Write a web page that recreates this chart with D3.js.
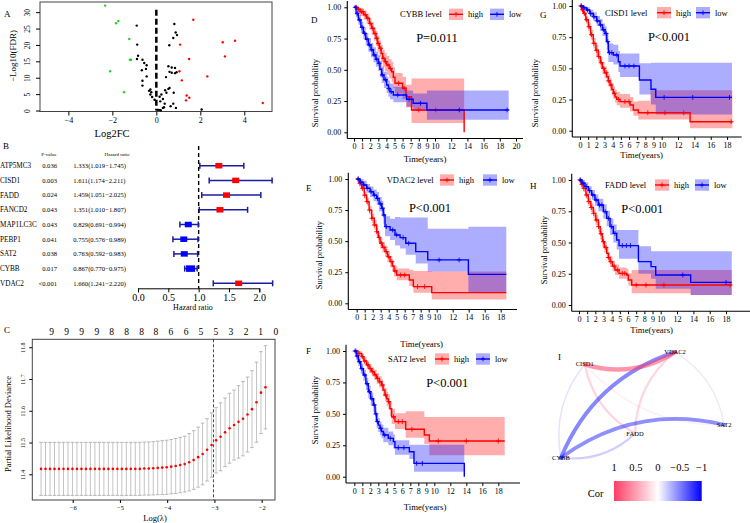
<!DOCTYPE html>
<html lang="en">
<head>
<meta charset="UTF-8">
<script src="https://cdn.jsdelivr.net/npm/d3@7"></script>
<style>
  body { margin: 0; background: #fff; }
  svg, svg text { font-family: "Liberation Serif", "DejaVu Serif", serif; }
  text { fill: #000; }
</style>
</head>
<body>
<div id="chart"></div>
<script>
// ---------- A: volcano (log2FC, -log10 FDR) ----------
var volUp = [[1.68,27.7],[1.08,20.1],[3.02,20.8],[3.58,21.3],[3.12,16.5],[1.49,15.7],[1.05,12.0],[2.32,10.4],
  [1.16,9.2],[1.38,4.6],[1.5,3.9],[1.35,3.1],[4.84,2.3]];
var volDown = [[-2.33,32.0],[-1.83,26.6],[-1.73,27.3],[-1.23,21.8],[-1.2,15.5],[-1.15,15.5],[-2.1,12.0],[-1.47,5.6]];
var volNs = [[-0.89,25.9],[-0.87,20.1],[-0.83,16.7],[-0.88,15.7],[-0.63,15.5],[-0.55,14.5],[-0.44,13.8],[-0.47,12.7],
  [-0.66,12.3],[-0.44,10.4],[-0.63,9.1],[-0.63,7.6],[-0.27,6.4],[-0.23,5.6],[-0.27,4.9],[-0.19,4.1],[-0.08,3.3],
  [-0.33,6.0],[0.82,26.4],[0.88,23.8],[0.94,23.0],[0.77,22.1],[0.59,19.9],[0.55,13.5],[0.7,13.1],[0.85,13.0],
  [0.6,11.8],[0.7,11.5],[0.85,11.4],[0.92,11.7],[0.44,10.2],[0.55,6.6],[0.4,6.2],[0.6,6.9],[0.46,5.4],[0.79,5.4],
  [0.23,4.9],[0.15,4.2],[0.3,3.5],[0.18,2.8],[0.38,2.1],[0.77,2.1],[0.65,1.3],[0.89,0.8],[0.3,0.8],[0.35,1.0],
  [0.05,0.2],[0.12,0.2],[0.2,0.1],[2.06,0.3]];

// ---------- B: univariate cox ----------
var genes = ["ATP5MC3","CISD1","FADD","FANCD2","MAP1LC3C","PEBP1","SAT2","CYBB","VDAC2"];
var pvals = ["0.036","0.003","0.024","0.043","0.043","0.041","0.038","0.017","<0.001"];
var hr = [1.333,1.611,1.459,1.351,0.829,0.755,0.763,0.867,1.660];
var hrLow = [1.019,1.174,1.051,1.010,0.691,0.576,0.592,0.770,1.241];
var hrHigh = [1.745,2.211,2.025,1.807,0.994,0.989,0.983,0.975,2.220];

// ---------- C: lasso cv ----------
var logLambda = [-6.67,-6.575,-6.48,-6.385,-6.29,-6.195,-6.1,-6.005,-5.91,-5.815,-5.72,-5.625,-5.53,-5.435,-5.34,
  -5.245,-5.15,-5.055,-4.96,-4.865,-4.77,-4.675,-4.58,-4.485,-4.39,-4.295,-4.2,-4.105,-4.01,-3.915,-3.82,-3.725,
  -3.63,-3.535,-3.44,-3.345,-3.25,-3.155,-3.06,-2.965,-2.87,-2.775,-2.68,-2.585,-2.49,-2.395,-2.3,-2.205,-2.11,
  -2.015,-1.92];
var cvm = [11.417,11.417,11.417,11.417,11.417,11.417,11.417,11.417,11.417,11.417,11.417,11.417,11.417,11.417,
  11.417,11.417,11.417,11.417,11.417,11.417,11.417,11.417,11.417,11.418,11.418,11.419,11.420,11.421,11.422,
  11.424,11.426,11.429,11.432,11.438,11.445,11.454,11.464,11.477,11.492,11.507,11.518,11.532,11.545,11.555,
  11.565,11.575,11.588,11.605,11.627,11.657,11.674];
var cvsd = [0.0835,0.0835,0.0835,0.0835,0.0835,0.0835,0.0835,0.0835,0.0835,0.0835,0.0835,0.0835,0.0835,0.0835,
  0.0835,0.0835,0.0835,0.0835,0.0835,0.0835,0.0835,0.0835,0.0835,0.0835,0.0837,0.084,0.0843,0.0848,0.0852,
  0.0856,0.0866,0.0871,0.0877,0.0903,0.0924,0.0945,0.0971,0.0982,0.1013,0.1029,0.107,0.108,0.110,0.110,0.114,
  0.117,0.118,0.121,0.126,0.129,0.131];
var nzeroAt = [-6.444,-6.127,-5.81,-5.49,-5.175,-4.857,-4.54,-4.237,-3.92,-3.60,-3.285,-2.967,-2.65,-2.33,-2.02,-1.70];
var nzero = [9,9,9,9,8,8,8,8,6,6,5,5,3,2,1,0];
var lambdaMin = -3.02;

// ---------- D-H: Kaplan-Meier (time, survival) steps, CI [time, lo, hi], censor times ----------
var cybbHigh = [[0,1],[0.4,0.985],[0.75,0.965],[1.2,0.94],[1.56,0.912],[1.9,0.87],[2.18,0.832],[2.45,0.79],[2.72,0.752],
  [2.9,0.71],[3.13,0.672],[3.35,0.63],[3.54,0.592],[3.8,0.565],[4.03,0.539],[4.35,0.51],[4.65,0.485],[4.85,0.44],
  [5.06,0.392],[6.0,0.352],[6.42,0.285],[7.1,0.179],[13.6,0]];
var cybbLow = [[0,1],[0.25,0.95],[0.53,0.899],[0.85,0.84],[1.15,0.792],[1.45,0.745],[1.77,0.699],[2.1,0.66],[2.39,0.619],
  [2.7,0.585],[3.0,0.552],[3.2,0.505],[3.42,0.459],[3.7,0.42],[4.03,0.379],[4.25,0.35],[4.44,0.325],[4.86,0.299],
  [6.5,0.264],[7.3,0.232],[9.0,0.179]];
var cybbHighCI = [[0,1,1],[0.4,0.955,1],[0.75,0.93,0.995],[1.2,0.9,0.975],[1.56,0.87,0.95],[1.9,0.82,0.915],[2.18,0.78,0.88],
  [2.45,0.735,0.84],[2.72,0.69,0.81],[2.9,0.645,0.77],[3.13,0.6,0.735],[3.35,0.56,0.7],[3.54,0.52,0.66],[3.8,0.49,0.635],
  [4.03,0.46,0.61],[4.35,0.43,0.585],[4.65,0.4,0.565],[4.85,0.355,0.52],[5.06,0.31,0.475],[6.0,0.265,0.445],
  [6.42,0.2,0.38],[7.1,0.075,0.43]];
var cybbLowCI = [[0,1,1],[0.25,0.92,0.98],[0.53,0.86,0.94],[0.85,0.795,0.885],[1.15,0.745,0.84],[1.45,0.695,0.795],
  [1.77,0.645,0.755],[2.1,0.6,0.715],[2.39,0.56,0.68],[2.7,0.525,0.645],[3.0,0.49,0.615],[3.2,0.44,0.57],[3.42,0.395,0.525],
  [3.7,0.355,0.485],[4.03,0.315,0.445],[4.25,0.285,0.415],[4.44,0.265,0.39],[4.86,0.24,0.365],[6.5,0.205,0.335],
  [7.3,0.17,0.31],[9.0,0.1,0.335]];
var cybbHighCens = [0.3,0.55,0.9,1.1,1.4,1.7,2.0,2.3,2.6,2.8,3.0,3.3,3.6,3.9,4.2,4.5,5.5,6.2,8.0,10.1];
var cybbLowCens = [0.15,0.4,0.7,1.0,1.3,1.6,1.9,2.2,2.5,2.8,3.1,3.5,3.9,4.3,4.6,5.4,6.8,8.2,13.0,18.9];

var cisd1High = [[0,1],[0.2,0.97],[0.41,0.941],[0.7,0.89],[1.02,0.834],[1.3,0.77],[1.63,0.70],[1.95,0.645],[2.24,0.594],
  [2.5,0.545],[2.73,0.5],[3.0,0.465],[3.27,0.433],[3.47,0.4],[3.67,0.366],[3.9,0.33],[4.08,0.299],[4.3,0.27],
  [4.49,0.251],[4.9,0.233],[6.12,0.206],[6.53,0.166],[7.14,0.144],[13.47,0.072]];
var cisd1Low = [[0,1],[0.4,0.985],[0.82,0.968],[1.2,0.94],[1.63,0.914],[2.05,0.88],[2.45,0.848],[2.75,0.81],[3.06,0.78],
  [3.27,0.714],[3.47,0.626],[4.08,0.607],[4.69,0.553],[4.9,0.519],[7.27,0.406],[8.69,0.332],[9.27,0.267]];
var cisd1HighCI = [[0,1,1],[0.2,0.95,0.99],[0.41,0.915,0.97],[0.7,0.86,0.92],[1.02,0.8,0.87],[1.3,0.73,0.81],
  [1.63,0.66,0.745],[1.95,0.6,0.69],[2.24,0.55,0.64],[2.5,0.5,0.59],[2.73,0.455,0.55],[3.0,0.42,0.515],[3.27,0.385,0.485],
  [3.47,0.355,0.455],[3.67,0.32,0.42],[3.9,0.285,0.385],[4.08,0.255,0.355],[4.3,0.225,0.33],[4.49,0.205,0.31],
  [4.9,0.185,0.295],[6.12,0.155,0.27],[6.53,0.12,0.235],[7.14,0.09,0.24],[8.6,0.09,0.325],[13.47,0.02,0.325]];
var cisd1LowCI = [[0,1,1],[0.4,0.97,1],[0.82,0.945,0.99],[1.2,0.91,0.97],[1.63,0.88,0.95],[2.05,0.84,0.92],[2.45,0.8,0.895],
  [2.75,0.76,0.86],[3.06,0.72,0.835],[3.27,0.65,0.78],[3.47,0.55,0.7],[4.08,0.53,0.69],[4.69,0.47,0.64],[4.9,0.43,0.62],
  [7.27,0.29,0.54],[8.69,0.21,0.545],[9.27,0.13,0.545]];
var cisd1HighCens = [0.1,0.3,0.55,0.8,1.1,1.4,1.7,2.0,2.3,2.6,2.9,3.2,3.5,3.8,4.2,4.7,5.5,6.0,8.3,10.4,12.7,18.5];
var cisd1LowCens = [0.2,0.5,0.9,1.3,1.7,2.1,2.5,2.9,3.2,3.4,3.6,3.9,4.5,5.5,6.0,6.6,10.3,13.8,18.3];

var vdac2High = [[0,1],[0.3,0.965],[0.63,0.925],[0.95,0.87],[1.25,0.818],[1.55,0.75],[1.88,0.684],[2.2,0.63],[2.5,0.576],
  [2.7,0.53],[2.92,0.483],[3.2,0.45],[3.54,0.416],[3.85,0.375],[4.17,0.335],[4.45,0.3],[4.67,0.26],[5.0,0.228],
  [6.58,0.188],[7.08,0.134],[9.38,0.086]];
var vdac2Low = [[0,1],[0.4,0.975],[0.83,0.952],[1.25,0.925],[1.67,0.898],[2.1,0.87],[2.5,0.844],[2.8,0.8],[3.13,0.764],
  [3.33,0.71],[3.54,0.617],[4.17,0.59],[4.79,0.55],[5.42,0.528],[6.13,0.483],[7.38,0.416],[8.88,0.349],[13.96,0.233]];
var vdac2HighCI = [[0,1,1],[0.3,0.94,0.99],[0.63,0.9,0.955],[0.95,0.84,0.9],[1.25,0.785,0.85],[1.55,0.715,0.785],
  [1.88,0.645,0.72],[2.2,0.59,0.67],[2.5,0.535,0.615],[2.7,0.49,0.57],[2.92,0.44,0.525],[3.2,0.41,0.495],[3.54,0.375,0.46],
  [3.85,0.33,0.42],[4.17,0.29,0.38],[4.45,0.255,0.345],[4.67,0.215,0.305],[5.0,0.185,0.28],[6.58,0.14,0.27],
  [7.08,0.085,0.26],[9.38,0.03,0.255]];
var vdac2LowCI = [[0,1,1],[0.4,0.95,1],[0.83,0.92,0.985],[1.25,0.89,0.96],[1.67,0.855,0.94],[2.1,0.82,0.915],[2.5,0.79,0.895],
  [2.8,0.74,0.855],[3.13,0.7,0.825],[3.33,0.64,0.775],[3.54,0.54,0.7],[4.17,0.51,0.68],[4.79,0.465,0.695],[5.42,0.44,0.69],
  [6.13,0.39,0.69],[7.38,0.32,0.69],[8.88,0.255,0.6],[13.96,0.09,0.615]];
var vdac2HighCens = [0.15,0.4,0.7,1.0,1.3,1.6,1.9,2.2,2.5,2.8,3.1,3.4,3.7,4.0,4.4,4.8,5.5,6.0,7.6,8.5];
var vdac2LowCens = [0.2,0.5,0.9,1.3,1.8,2.2,2.6,3.0,3.2,3.4,3.7,4.5,5.0,5.8,6.5,10.3,12.8];

var faddHigh = [[0,1],[0.25,0.965],[0.53,0.933],[0.85,0.88],[1.14,0.827],[1.45,0.78],[1.76,0.733],[2.05,0.68],[2.37,0.627],
  [2.6,0.57],[2.86,0.507],[3.1,0.46],[3.39,0.413],[3.6,0.38],[3.8,0.347],[4.1,0.31],[4.41,0.28],[4.9,0.253],
  [5.84,0.24],[6.04,0.2],[6.45,0.16]];
var faddLow = [[0,1],[0.35,0.975],[0.73,0.947],[1.15,0.915],[1.55,0.88],[1.95,0.84],[2.37,0.8],[2.98,0.747],[3.39,0.693],
  [3.8,0.627],[4.2,0.573],[4.61,0.52],[4.9,0.475],[7.27,0.347],[8.82,0.307],[9.39,0.24],[13.67,0.181]];
var faddHighCI = [[0,1,1],[0.25,0.94,0.99],[0.53,0.905,0.96],[0.85,0.85,0.91],[1.14,0.795,0.86],[1.45,0.745,0.815],
  [1.76,0.695,0.77],[2.05,0.64,0.72],[2.37,0.585,0.67],[2.6,0.525,0.615],[2.86,0.465,0.55],[3.1,0.42,0.505],
  [3.39,0.37,0.46],[3.6,0.34,0.425],[3.8,0.305,0.39],[4.1,0.27,0.355],[4.41,0.24,0.325],[4.9,0.21,0.3],
  [5.84,0.195,0.29],[6.04,0.155,0.255],[6.45,0.095,0.28],[13.67,0.08,0.28]];
var faddLowCI = [[0,1,1],[0.35,0.95,1],[0.73,0.92,0.98],[1.15,0.88,0.95],[1.55,0.84,0.92],[1.95,0.795,0.885],[2.37,0.75,0.85],
  [2.98,0.69,0.805],[3.39,0.63,0.755],[3.8,0.56,0.695],[4.2,0.5,0.645],[4.61,0.445,0.6],[4.9,0.37,0.6],[7.27,0.25,0.47],
  [8.82,0.21,0.43],[9.39,0.13,0.43],[13.67,0.08,0.43]];
var faddHighCens = [0.1,0.35,0.6,0.9,1.2,1.5,1.8,2.1,2.4,2.7,3.0,3.3,3.6,3.9,4.3,4.7,5.3,5.6,7.0,8.2,10.4,18.5];
var faddLowCens = [0.2,0.5,0.9,1.3,1.7,2.1,2.5,2.8,3.2,3.6,4.0,4.4,5.3,5.8,6.3,12.7,18.0];

var sat2High = [[0,1],[0.45,0.98],[0.92,0.955],[1.2,0.92],[1.54,0.889],[1.85,0.86],[2.17,0.836],[2.5,0.81],[2.79,0.782],
  [3.1,0.755],[3.42,0.729],[3.6,0.69],[3.83,0.65],[4.05,0.62],[4.25,0.597],[4.45,0.54],[4.67,0.477],[5.08,0.438],
  [6.42,0.377],[8.75,0.332],[9.38,0.284]];
var sat2Low = [[0,1],[0.25,0.96],[0.5,0.915],[0.8,0.86],[1.13,0.809],[1.45,0.74],[1.75,0.676],[2.05,0.62],[2.38,0.57],
  [2.6,0.5],[2.79,0.438],[3.0,0.41],[3.21,0.385],[3.4,0.36],[3.63,0.332],[4.25,0.305],[4.88,0.279],[5.08,0.231],
  [6.88,0.199],[7.46,0.106],[13.75,0]];
var sat2HighCI = [[0,1,1],[0.45,0.96,1],[0.92,0.93,0.98],[1.2,0.89,0.95],[1.54,0.855,0.92],[1.85,0.825,0.895],[2.17,0.8,0.87],
  [2.5,0.77,0.85],[2.79,0.74,0.825],[3.1,0.71,0.8],[3.42,0.68,0.775],[3.6,0.64,0.74],[3.83,0.6,0.705],[4.05,0.565,0.675],
  [4.25,0.54,0.655],[4.45,0.48,0.6],[4.67,0.42,0.54],[5.08,0.38,0.505],[6.42,0.31,0.52],[8.75,0.26,0.475],
  [9.38,0.17,0.475]];
var sat2LowCI = [[0,1,1],[0.25,0.93,0.99],[0.5,0.88,0.95],[0.8,0.82,0.9],[1.13,0.765,0.85],[1.45,0.69,0.785],
  [1.75,0.625,0.725],[2.05,0.565,0.67],[2.38,0.515,0.625],[2.6,0.445,0.555],[2.79,0.385,0.495],[3.0,0.355,0.465],
  [3.21,0.33,0.44],[3.4,0.305,0.415],[3.63,0.275,0.39],[4.25,0.25,0.36],[4.88,0.225,0.335],[5.08,0.175,0.29],
  [6.88,0.14,0.255],[7.46,0.04,0.255]];
var sat2HighCens = [0.2,0.6,1.0,1.3,1.7,2.0,2.3,2.6,2.9,3.2,3.5,3.9,4.3,4.9,5.5,6.0,7.2,10.5,14.0,18.0];
var sat2LowCens = [0.1,0.35,0.65,0.95,1.3,1.6,1.9,2.2,2.5,2.7,2.9,3.3,3.8,4.5,5.5,6.2,7.8,8.5];

var kmTicks18 = [0,1,2,3,4,5,6,7,8,9,10,12,14,16,18];
var kmTicks20 = [0,1,2,3,4,5,6,7,8,9,10,12,14,16,18,20];

// ---------- I: correlation network ----------
var netNodes = ["CISD1","VDAC2","SAT2","FADD","CYBB"];
var netX = [0.17,0.686,0.966,0.457,0.034];
var netY = [0.13,0.02,0.68,0.76,0.98];
var netEdges = [["SAT2","VDAC2",-0.08],["CISD1","SAT2",0.08],["CISD1","CYBB",-0.1],["CYBB","FADD",-0.18],
  ["CISD1","FADD",0.2],["VDAC2","FADD",0.2],["SAT2","CYBB",-0.42],["VDAC2","CYBB",-0.45],["CISD1","VDAC2",0.52]];
var corTicks = [1,0.5,0,-0.5,-1];

var SERIF = "'Liberation Serif', 'DejaVu Serif', serif";
var svg = d3.select("#chart").append("svg").attr("width", 750).attr("height", 523)
  .style("font-family", SERIF);

function txt(g, x, y, s, size, anchor, rot) {
  var t = g.append("text").attr("x", x).attr("y", y).text(s)
    .style("font-family", SERIF).style("font-size", size + "px").attr("text-anchor", anchor || "start");
  if (rot) t.attr("transform", "rotate(" + rot + "," + x + "," + y + ")");
  return t;
}
function styleAxis(g, size) {
  g.attr("font-family", SERIF).attr("font-size", size);
  g.selectAll("text").style("font-family", SERIF).style("font-size", size + "px");
  g.selectAll("line,path").attr("stroke", "#000");
}

// ================= A =================
var gA = svg.append("g");
var ax = d3.scaleLinear().domain([-5.29, 5.26]).range([40, 272]);
var ay = d3.scaleLinear().domain([-0.3, 33.1]).range([111.5, 2]);
gA.append("rect").attr("x", 40).attr("y", 2).attr("width", 232).attr("height", 109.5)
  .attr("fill", "none").attr("stroke", "#444");
gA.append("line").attr("x1", ax(0)).attr("x2", ax(0)).attr("y1", ay(30.7)).attr("y2", ay(0))
  .attr("stroke", "#000").attr("stroke-width", 2.5).attr("stroke-dasharray", "6,3");
[[volNs, "#000"], [volDown, "#1fd21f"], [volUp, "#ff0000"]].forEach(function (s) {
  gA.selectAll(null).data(s[0]).enter().append("circle")
    .attr("cx", function (d) { return ax(d[0]); }).attr("cy", function (d) { return ay(d[1]); })
    .attr("r", 1.2).attr("fill", s[1]);
});
var axA = gA.append("g").attr("transform", "translate(0,111.5)")
  .call(d3.axisBottom(ax).tickValues([-4, -2, 0, 2, 4]).tickSize(4).tickFormat(d3.format("d")));
axA.select(".domain").remove();
styleAxis(axA, 8);
axA.selectAll("text").attr("y", 6);
var ayA = gA.append("g").attr("transform", "translate(40,0)")
  .call(d3.axisLeft(ay).tickValues([0, 5, 10, 15, 20, 25, 30]).tickSize(4));
ayA.select(".domain").remove();
styleAxis(ayA, 7.5);
ayA.selectAll("text").attr("transform", "rotate(-90)").attr("x", 0).attr("y", -10).attr("dy", 0)
  .attr("text-anchor", "middle");
txt(gA, 16, 56, "\u2212Log10(FDR)", 9, "middle", -90);
txt(gA, 112, 137, "Log2FC", 10.5, "middle");
txt(gA, 4, 17, "A", 9);

// ================= B =================
var gB = svg.append("g");
var fx = d3.scaleLinear().domain([0, 2]).range([138, 259.3]);
var fy = d3.scalePoint().domain(genes).range([165.7, 283.3]);
txt(gB, 3, 149, "B", 9);
txt(gB, 49, 156, "P-value", 5, "middle");
txt(gB, 117, 156, "Hazard ratio", 5, "middle");
genes.forEach(function (gname, i) {
  var yy = fy(gname);
  txt(gB, 0, yy + 2.5, gname, 7.2);
  txt(gB, 57, yy + 2.3, pvals[i], 6.6, "end");
  txt(gB, 73.3, yy + 2.3, hr[i].toFixed(3) + "(" + hrLow[i].toFixed(3) + "\u2212" + hrHigh[i].toFixed(3) + ")", 6.6);
});
gB.append("line").attr("x1", fx(1)).attr("x2", fx(1)).attr("y1", 146).attr("y2", 288.3)
  .attr("stroke", "#000").attr("stroke-width", 1.4).attr("stroke-dasharray", "4,3");
genes.forEach(function (gname, i) {
  var yy = fy(gname), col = "#1c1ca0";
  gB.append("line").attr("x1", fx(hrLow[i])).attr("x2", fx(hrHigh[i])).attr("y1", yy).attr("y2", yy)
    .attr("stroke", col).attr("stroke-width", 1.5);
  [hrLow[i], hrHigh[i]].forEach(function (v) {
    gB.append("line").attr("x1", fx(v)).attr("x2", fx(v)).attr("y1", yy - 3).attr("y2", yy + 3)
      .attr("stroke", col).attr("stroke-width", 1.5);
  });
  var w = gname === "CYBB" ? 9 : 7, h = gname === "CYBB" ? 6.5 : 5.5;
  gB.append("rect").attr("x", fx(hr[i]) - w / 2).attr("y", yy - h / 2).attr("width", w).attr("height", h)
    .attr("fill", hr[i] > 1 ? "#ff0000" : "#0000ff");
});
var axB = gB.append("g").attr("transform", "translate(0,288.3)")
  .call(d3.axisBottom(fx).tickValues([0, 0.5, 1, 1.5, 2]).tickFormat(d3.format(".1f")).tickSize(4));
styleAxis(axB, 10);
axB.selectAll("text").attr("y", 6);
txt(gB, 193, 310, "Hazard ratio", 8, "middle");

// ================= C =================
var gC = svg.append("g");
var cx = d3.scaleLinear().domain([-6.855, -1.718]).range([32.3, 275]);
var cy = d3.scaleLinear().domain([11.319, 11.825]).range([500, 339.3]);
txt(gC, 4, 333, "C", 9);
gC.append("rect").attr("x", 32.3).attr("y", 339.3).attr("width", 242.7).attr("height", 160.7)
  .attr("fill", "none").attr("stroke", "#444");
logLambda.forEach(function (l, i) {
  var x = cx(l), y1 = cy(cvm[i] - cvsd[i]), y2 = cy(cvm[i] + cvsd[i]);
  gC.append("line").attr("x1", x).attr("x2", x).attr("y1", y1).attr("y2", y2).attr("stroke", "#c4c4c4").attr("stroke-width", 1);
  [y1, y2].forEach(function (yy) {
    gC.append("line").attr("x1", x - 1.8).attr("x2", x + 1.8).attr("y1", yy).attr("y2", yy)
      .attr("stroke", "#b0b0b0").attr("stroke-width", 0.9);
  });
});
gC.append("line").attr("x1", cx(lambdaMin)).attr("x2", cx(lambdaMin)).attr("y1", 339.3).attr("y2", 500)
  .attr("stroke", "#333").attr("stroke-width", 0.9).attr("stroke-dasharray", "3,2");
gC.selectAll(null).data(logLambda).enter().append("circle")
  .attr("cx", function (d) { return cx(d); }).attr("cy", function (d, i) { return cy(cvm[i]); })
  .attr("r", 1.3).attr("fill", "#ff0000");
var axC = gC.append("g").attr("transform", "translate(0,500)")
  .call(d3.axisBottom(cx).tickValues([-6, -5, -4, -3, -2]).tickFormat(d3.format("d")).tickSize(3));
axC.select(".domain").remove();
styleAxis(axC, 6.5);
axC.selectAll("text").attr("y", 5);
var ayC = gC.append("g").attr("transform", "translate(32.3,0)")
  .call(d3.axisLeft(cy).tickValues([11.4, 11.5, 11.6, 11.7, 11.8]).tickFormat(d3.format(".1f")).tickSize(3));
ayC.select(".domain").remove();
styleAxis(ayC, 6);
ayC.selectAll("text").attr("transform", "rotate(-90)").attr("x", 0).attr("y", -7).attr("dy", 0)
  .attr("text-anchor", "middle");
nzero.forEach(function (n, i) { txt(gC, cx(nzeroAt[i]), 335, n, 9.5, "middle"); });
txt(gC, 11, 424, "Partial Likelihood Deviance", 8.5, "middle", -90);
txt(gC, 155, 521, "Log(\u03bb)", 8.5, "middle");

// ================= KM panels =================
var kmPanels = [
  { gene: "CYBB", letter: "D", pTxt: "P=0.011", high: cybbHigh, low: cybbLow, highCI: cybbHighCI, lowCI: cybbLowCI,
    highCens: cybbHighCens, lowCens: cybbLowCens, highEnd: 13.6, lowEnd: 19.1, ticks: kmTicks20,
    axisX: 347.3, t0: 354, ppy: 8.1, y1: 7.3, y0: 132.3, xEnd: 523, let: [311, 23], ylab: [318, 93], xlab: [425, 162],
    legX: 400, legY: 14.3, keyH: 449, keyL: 490, pX: 437, pY: 42 },
  { gene: "CISD1", letter: "G", pTxt: "P<0.001", high: cisd1High, low: cisd1Low, highCI: cisd1HighCI, lowCI: cisd1LowCI,
    highCens: cisd1HighCens, lowCens: cisd1LowCens, highEnd: 18.65, lowEnd: 18.6, ticks: kmTicks18,
    axisX: 572.3, t0: 580, ppy: 8.17, y1: 6, y0: 130.7, xEnd: 741.7, let: [540, 18], ylab: [538, 93], xlab: [641.7, 158],
    legX: 605, legY: 12.7, keyH: 657, keyL: 696, pX: 669, pY: 41 },
  { gene: "VDAC2", letter: "E", pTxt: "P<0.001", high: vdac2High, low: vdac2Low, highCI: vdac2HighCI, lowCI: vdac2LowCI,
    highCens: vdac2HighCens, lowCens: vdac2LowCens, highEnd: 18.7, lowEnd: 18.7, ticks: kmTicks18,
    axisX: 348.3, t0: 356.7, ppy: 8.0, y1: 179, y0: 303.3, xEnd: 517, let: [306, 191], ylab: [322, 255], xlab: [421.7, 347],
    legX: 386.7, legY: 180, keyH: 440, keyL: 483, pX: 430, pY: 212 },
  { gene: "FADD", letter: "H", pTxt: "P<0.001", high: faddHigh, low: faddLow, highCI: faddHighCI, lowCI: faddLowCI,
    highCens: faddHighCens, lowCens: faddLowCens, highEnd: 18.7, lowEnd: 18.7, ticks: kmTicks18,
    axisX: 571.7, t0: 579, ppy: 8.17, y1: 180, y0: 305, xEnd: 750, let: [530, 189], ylab: [547, 250], xlab: [651.7, 333],
    legX: 605, legY: 185, keyH: 655, keyL: 695, pX: 642.3, pY: 212.5 },
  { gene: "SAT2", letter: "F", pTxt: "P<0.001", high: sat2High, low: sat2Low, highCI: sat2HighCI, lowCI: sat2LowCI,
    highCens: sat2HighCens, lowCens: sat2LowCens, highEnd: 18.8, lowEnd: 13.75, ticks: kmTicks18,
    axisX: 346, t0: 354.3, ppy: 8.0, y1: 351, y0: 476.7, xEnd: 520, let: [306, 354], ylab: [318, 410], xlab: [425, 510],
    legX: 388, legY: 359, keyH: 435, keyL: 476, pX: 447.3, pY: 387 }
];
var RED = "#ff0000", BLUE = "#0000ff";

function survAt(steps, t) {
  var s = steps[0][1];
  steps.forEach(function (d) { if (d[0] <= t) s = d[1]; });
  return s;
}
function cross(g, x, y, col) {
  g.append("path").attr("d", "M" + (x - 2.4) + "," + y + "h4.8M" + x + "," + (y - 2.4) + "v4.8")
    .attr("stroke", col).attr("stroke-width", 0.9).attr("fill", "none");
}

kmPanels.forEach(function (p) {
  var g = svg.append("g");
  var x = d3.scaleLinear().domain([0, 10]).range([p.t0, p.t0 + 10 * p.ppy]);
  var y = d3.scaleLinear().domain([0, 1]).range([p.y0, p.y1]);
  var baseY = y(-0.05);

  var area = d3.area().curve(d3.curveStepAfter)
    .x(function (d) { return x(d[0]); }).y0(function (d) { return y(d[1]); }).y1(function (d) { return y(d[2]); });
  var line = d3.line().curve(d3.curveStepAfter)
    .x(function (d) { return x(d[0]); }).y(function (d) { return y(d[1]); });

  [[p.highCI, p.highEnd, RED], [p.lowCI, p.lowEnd, BLUE]].forEach(function (c) {
    var last = c[0][c[0].length - 1];
    g.append("path").datum(c[0].concat([[c[1], last[1], last[2]]])).attr("d", area)
      .attr("fill", c[2]).attr("fill-opacity", 0.32);
  });
  [[p.high, p.highEnd, RED, p.highCens], [p.low, p.lowEnd, BLUE, p.lowCens]].forEach(function (c) {
    var last = c[0][c[0].length - 1];
    g.append("path").datum(c[0].concat([[c[1], last[1]]])).attr("d", line)
      .attr("fill", "none").attr("stroke", c[2]).attr("stroke-width", 1.4);
    c[3].forEach(function (t) { cross(g, x(t), y(survAt(c[0], t)), c[2]); });
  });

  // axes
  g.append("line").attr("x1", p.axisX).attr("x2", p.axisX).attr("y1", y(1.05)).attr("y2", baseY)
    .attr("stroke", "#000").attr("stroke-width", 1.1);
  g.append("line").attr("x1", p.axisX).attr("x2", p.xEnd).attr("y1", baseY).attr("y2", baseY)
    .attr("stroke", "#000").attr("stroke-width", 1.1);
  var yAx = g.append("g").attr("transform", "translate(" + p.axisX + ",0)")
    .call(d3.axisLeft(y).tickValues([0, 0.25, 0.5, 0.75, 1]).tickFormat(d3.format(".2f")).tickSize(3));
  yAx.select(".domain").remove();
  styleAxis(yAx, 8);
  yAx.selectAll("text").attr("x", -6);
  var xAx = g.append("g").attr("transform", "translate(0," + baseY + ")")
    .call(d3.axisBottom(x).tickValues(p.ticks).tickSize(3));
  xAx.select(".domain").remove();
  styleAxis(xAx, 8);
  xAx.selectAll("text").attr("y", 5);

  txt(g, p.ylab[0], p.ylab[1], "Survival probability", 8.5, "middle", -90);
  txt(g, p.xlab[0], p.xlab[1], "Time(years)", 8.8, "middle");
  txt(g, p.let[0], p.let[1], p.letter, 9);
  txt(g, p.pX, p.pY, p.pTxt, 12.5, "middle");

  // legend
  txt(g, p.legX, p.legY + 3, p.gene + " level", 8.5);
  [[p.keyH, RED, "high"], [p.keyL, BLUE, "low"]].forEach(function (k) {
    g.append("rect").attr("x", k[0]).attr("y", p.legY - 5.7).attr("width", 14).attr("height", 11.4)
      .attr("fill", k[1]).attr("fill-opacity", 0.32);
    g.append("line").attr("x1", k[0]).attr("x2", k[0] + 14).attr("y1", p.legY).attr("y2", p.legY)
      .attr("stroke", k[1]).attr("stroke-width", 1.4);
    cross(g, k[0] + 7, p.legY, k[1]);
    txt(g, k[0] + 19, p.legY + 3, k[2], 8.5);
  });
});

// ================= I =================
var gI = svg.append("g");
var nx = d3.scaleLinear().domain([0, 1]).range([555, 730]);
var ny = d3.scaleLinear().domain([0, 1]).range([350, 460]);
var corColor = d3.scaleLinear().domain([-1, 0, 1]).range(["#0000ff", "#ffffff", "#ff3d64"]);
var pos = {};
netNodes.forEach(function (n, i) { pos[n] = [nx(netX[i]), ny(netY[i])]; });
txt(gI, 558, 360, "I", 9);
netEdges.forEach(function (e) {
  var a = pos[e[0]], b = pos[e[1]], dx = b[0] - a[0], dy = b[1] - a[1], c = 0.23;
  var mx = (a[0] + b[0]) / 2 - c * dy, my = (a[1] + b[1]) / 2 + c * dx;
  gI.append("path").attr("d", "M" + a[0] + "," + a[1] + "Q" + mx + "," + my + " " + b[0] + "," + b[1])
    .attr("fill", "none").attr("stroke", corColor(e[2] > 0 ? 1 : -1))
    .attr("stroke-opacity", Math.min(1, Math.abs(e[2]) * 1.05))
    .attr("stroke-width", 1 + 6.5 * Math.abs(e[2])).attr("stroke-linecap", "round");
});
netNodes.forEach(function (n) { txt(gI, pos[n][0], pos[n][1] + 2, n, 6.5, "middle"); });

var lx = d3.scaleLinear().domain([1, -1]).range([614, 701.7]);
var grad = svg.append("defs").append("linearGradient").attr("id", "corGrad");
corTicks.forEach(function (v) {
  grad.append("stop").attr("offset", (lx(v) - 614) / 87.7).attr("stop-color", corColor(v));
});
gI.append("rect").attr("x", 614).attr("y", 481).attr("width", 87.7).attr("height", 20).attr("fill", "url(#corGrad)");
corTicks.forEach(function (v) { txt(gI, lx(v), 471, d3.format("")(v), 10.5, "middle"); });
txt(gI, 595.7, 497, "Cor", 10.5, "middle");
</script>
</body>
</html>
